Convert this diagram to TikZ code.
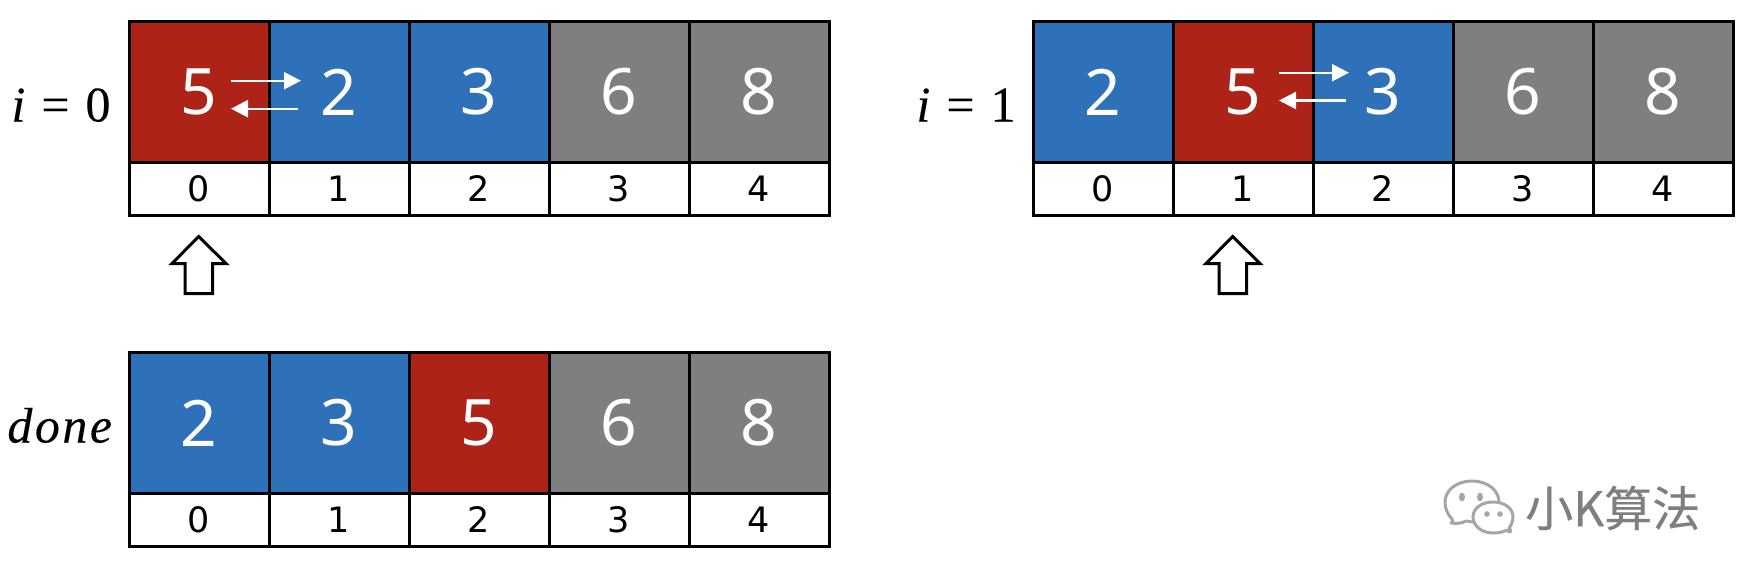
\documentclass[tikz,border=0pt]{standalone}
\usepackage{fontspec}
\usepackage{graphicx}
\setmainfont{Noto Sans}
\newfontfamily\cjkfont[FakeBold=0.25]{Noto Sans CJK SC}
\newfontfamily\idxfont{DejaVu Sans}
\newfontfamily\lblfont[FakeBold=0.2]{Liberation Serif}
\usetikzlibrary{arrows.meta}
\definecolor{cellred}{HTML}{AE2318}
\definecolor{cellblue}{HTML}{2E71B9}
\definecolor{cellgray}{HTML}{7F7F7F}
\definecolor{markgray}{HTML}{A6A6A6}
\tikzset{
  valcell/.style={draw=black,line width=3pt,minimum width=140pt,minimum height=141pt,inner sep=0pt,outer sep=0pt,text=white,font=\fontsize{64}{64}\selectfont},
  idxcell/.style={draw=black,fill=white,line width=3pt,minimum width=140pt,minimum height=53pt,inner sep=0pt,outer sep=0pt,text=black,font=\idxfont\fontsize{35}{35}\selectfont},
  rowlabel/.style={inner sep=0pt,anchor=base,text=black,font=\lblfont\fontsize{50}{50}\selectfont},
  swaparrow/.style={draw=white,line width=2.4pt,-{Triangle[length=17pt,width=17pt]}},
  bigarrow/.style={draw=black,fill=white,line width=3pt,line join=miter},
  wmline/.style={draw=markgray,line width=3pt,fill=white,line join=round}
}
% name, left x, top y, colours and values
\newcommand{\arrayrow}[4]{%
  \foreach \k/\fc/\v in {#4}{%
    \node[valcell,fill=\fc] (#1v\k) at ({#2+70+140*\k},{#3+70.5}) {\v};
    \node[idxcell] (#1i\k) at ({#2+70+140*\k},{#3+167.5}) {\k};
  }%
}
\begin{document}
\begin{tikzpicture}[x=1pt,y=-1pt]
\useasboundingbox (0,0) rectangle (1746,562);
\fill[white] (0,0) rectangle (1746,562);
\arrayrow{a}{129}{21.5}{0/cellred/5,1/cellblue/2,2/cellblue/3,3/cellgray/6,4/cellgray/8}
\arrayrow{b}{1033}{21.5}{0/cellblue/2,1/cellred/5,2/cellblue/3,3/cellgray/6,4/cellgray/8}
\arrayrow{c}{129}{352.5}{0/cellblue/2,1/cellblue/3,2/cellred/5,3/cellgray/6,4/cellgray/8}
\node[rowlabel] (la) at (61,121.5) {\textit{i}\hspace{16pt}=\hspace{16pt}0};
\node[rowlabel] (lb) at (966,121.5) {\textit{i}\hspace{16pt}=\hspace{16pt}1};
\node[rowlabel] (lc) at (61,442.5) {\addfontfeature{LetterSpace=5}\textit{done}};
% swap arrows
\coordinate (as1) at (231,80.7);  \coordinate (ae1) at (301,80.7);
\coordinate (as2) at (298,108.7); \coordinate (ae2) at (231,108.7);
\coordinate (bs1) at (1279,72.7); \coordinate (be1) at (1349,72.7);
\coordinate (bs2) at (1346,100.5);\coordinate (be2) at (1279,100.5);
\draw[swaparrow] (as1) -- (ae1);
\draw[swaparrow] (as2) -- (ae2);
\draw[swaparrow] (bs1) -- (be1);
\draw[swaparrow] (bs2) -- (be2);
% pointer arrows
\draw[bigarrow] (198.7,236.5) -- (226,263.5) -- (212.7,263.5) -- (212.7,293.5) -- (185,293.5) -- (185,263.5) -- (172,263.5) -- cycle;
\draw[bigarrow] (1232.7,236.5) -- (1260,263.5) -- (1246.7,263.5) -- (1246.7,293.5) -- (1219,293.5) -- (1219,263.5) -- (1206,263.5) -- cycle;
% watermark
\draw[wmline] (1452,519) .. controls (1453,523) and (1452,522) .. (1451,523) .. controls (1458,524) and (1462,523) .. (1466,521) .. controls (1490,526) and (1499,512) .. (1499,502) .. controls (1499,490) and (1487,481) .. (1472,481) .. controls (1457,481) and (1445,490) .. (1445,502) .. controls (1445,509) and (1448,515) .. (1452,519) -- cycle;
\fill[markgray] (1462,497) ellipse (3pt and 4.5pt);
\fill[markgray] (1480,497) ellipse (3pt and 4.5pt);
\draw[wmline] (1493,533) .. controls (1499,533) and (1503,532) .. (1507,530) .. controls (1509,533) and (1513,533) .. (1509,528) .. controls (1510,527) and (1513,522) .. (1513,517) .. controls (1513,508) and (1504,502) .. (1493,502) .. controls (1482,502) and (1473,508) .. (1473,517) .. controls (1473,526) and (1482,533) .. (1493,533) -- cycle;
\fill[markgray] (1487,514) circle (2.8pt);
\fill[markgray] (1500,514) circle (2.8pt);
\node[inner sep=0pt,anchor=west,text=cellgray,font=\cjkfont\fontsize{48}{48}\selectfont] (wm) at (1525,508) {小K算法};
\end{tikzpicture}
\end{document}
